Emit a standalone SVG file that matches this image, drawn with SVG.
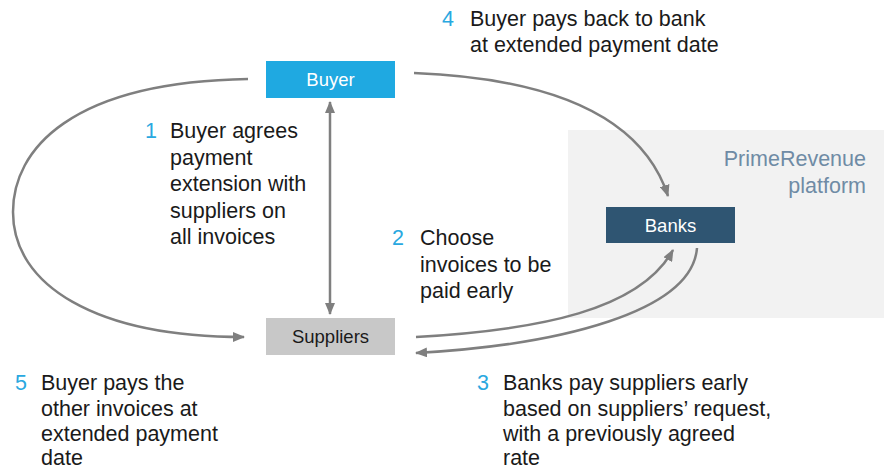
<svg xmlns="http://www.w3.org/2000/svg" width="886" height="470" viewBox="0 0 886 470">
<style>
.lbl{font-family:"Liberation Sans",Arial,sans-serif;font-size:21.5px;fill:#1a1a1a}
.num{font-family:"Liberation Sans",Arial,sans-serif;font-size:21.5px;fill:#29a8e0}
.box{font-family:"Liberation Sans",Arial,sans-serif;font-size:18.5px;text-anchor:middle}
.plat{font-family:"Liberation Sans",Arial,sans-serif;font-size:21.5px;fill:#6f8ba5;text-anchor:end}
.conn{fill:none;stroke:#7f7f7f;stroke-width:2.5}
</style>
<defs>
<marker id="ah" viewBox="0 0 12 10" refX="11" refY="5" markerWidth="12" markerHeight="10" markerUnits="userSpaceOnUse" orient="auto-start-reverse">
<path d="M0,0 L12,5 L0,10 Z" fill="#7f7f7f"/>
</marker>
</defs>
<rect id="platform-bg" x="568" y="130" width="316" height="188" fill="#f2f2f2"/>
<g id="platform-label">
<text class="plat" x="866" y="166">PrimeRevenue</text>
<text class="plat" x="866" y="193">platform</text>
</g>
<g id="connectors">
<path class="conn" d="M330,102 L330,314" marker-start="url(#ah)" marker-end="url(#ah)"/>
<path class="conn" d="M248,79 C70,82 13,150 13,212 C13,285 95,337 244,337" marker-end="url(#ah)"/>
<path class="conn" d="M414,73 C540,78 640,110 668,196" marker-end="url(#ah)"/>
<path class="conn" d="M416,337 C540,330 640,310 673,250" marker-end="url(#ah)"/>
<path class="conn" d="M697,248 C692,312 560,345 416,353" marker-end="url(#ah)"/>
</g>
<g id="buyer">
<rect x="266" y="61" width="129" height="37" fill="#1fa9e1"/>
<text class="box" x="330.5" y="86" fill="#ffffff">Buyer</text>
</g>
<g id="banks">
<rect x="606" y="207" width="129" height="36" fill="#2f5572"/>
<text class="box" x="670.5" y="231.5" fill="#ffffff">Banks</text>
</g>
<g id="suppliers">
<rect x="266" y="318" width="129" height="37" fill="#c8c8c8"/>
<text class="box" x="330.5" y="342.5" fill="#1a1a1a">Suppliers</text>
</g>
<g id="step1">
<text class="num" x="145" y="138">1</text>
<text class="lbl" x="170" y="138">Buyer agrees</text>
<text class="lbl" x="170" y="164.5">payment</text>
<text class="lbl" x="170" y="191">extension with</text>
<text class="lbl" x="170" y="217.5">suppliers on</text>
<text class="lbl" x="170" y="244">all invoices</text>
</g>
<g id="step2">
<text class="num" x="392" y="245">2</text>
<text class="lbl" x="420" y="245">Choose</text>
<text class="lbl" x="420" y="271.5">invoices to be</text>
<text class="lbl" x="420" y="298">paid early</text>
</g>
<g id="step3">
<text class="num" x="477" y="390">3</text>
<text class="lbl" x="503" y="390">Banks pay suppliers early</text>
<text class="lbl" x="503" y="415.5">based on suppliers’ request,</text>
<text class="lbl" x="503" y="441">with a previously agreed</text>
<text class="lbl" x="503" y="465">rate</text>
</g>
<g id="step4">
<text class="num" x="442" y="26">4</text>
<text class="lbl" x="470" y="26">Buyer pays back to bank</text>
<text class="lbl" x="470" y="52">at extended payment date</text>
</g>
<g id="step5">
<text class="num" x="15" y="390">5</text>
<text class="lbl" x="41" y="390">Buyer pays the</text>
<text class="lbl" x="41" y="415.5">other invoices at</text>
<text class="lbl" x="41" y="441">extended payment</text>
<text class="lbl" x="41" y="465">date</text>
</g>
</svg>
